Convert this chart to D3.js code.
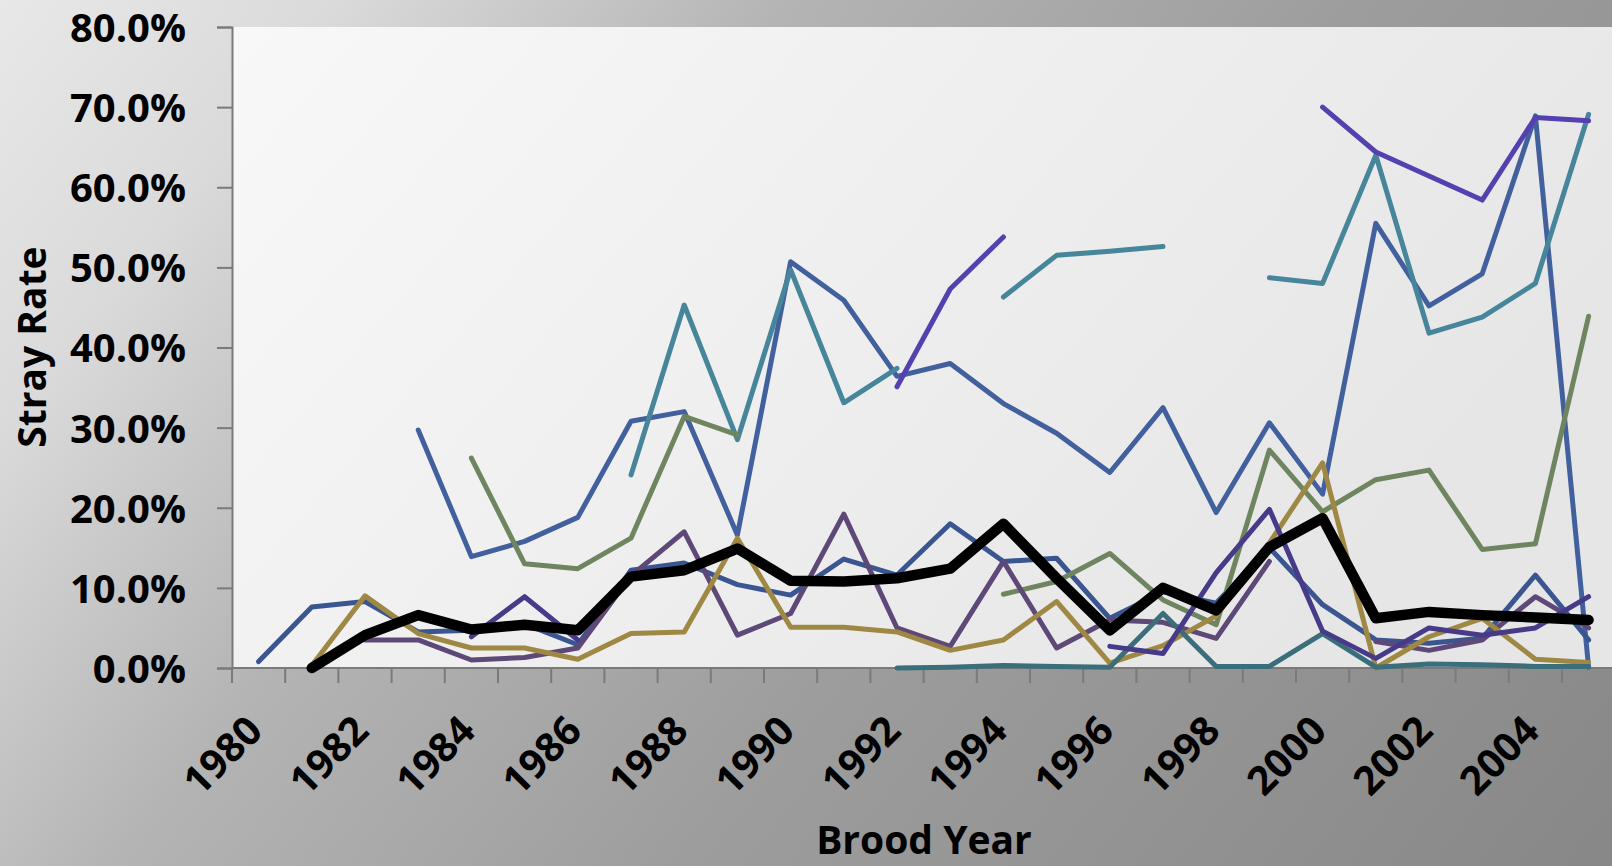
<!DOCTYPE html>
<html>
<head>
<meta charset="utf-8">
<script src="https://cdn.jsdelivr.net/npm/d3@7"></script>
<style>
  html, body { margin: 0; padding: 0; overflow: hidden; }
  svg { display: block; }
</style>
</head>
<body>
<div id="chart"></div>
<script>
const width = 1612
const height = 866

// brood years (categories)
const years = d3.range(1980, 2006)
const yTicks = [0, 0.1, 0.2, 0.3, 0.4, 0.5, 0.6, 0.7, 0.8]
const xLabelYears = years.filter(y => y % 2 === 0)

// stray rates in percent, null = no data
const upperBlue = [null, null, null, 29.7, 13.9, 15.8, 18.8, 30.8, 32.0, 16.6, 50.7, 45.9, 36.4, 38.0, 33.0, 29.3, 24.4, 32.5, 19.4, 30.6, 21.7, 55.5, 45.2, 49.2, 68.9, 0.1]
const lowerBlue = [0.8, 7.6, 8.3, 4.5, 4.7, 5.5, 2.9, 12.2, 13.1, 10.4, 9.1, 13.6, 11.6, 18.0, 13.3, 13.7, 6.2, 9.5, 8.1, 15.0, 7.9, 3.5, 3.1, 3.7, 11.6, 3.5]
const teal = [null, null, null, null, null, null, null, 24.1, 45.3, 28.5, 49.7, 33.1, 37.4, null, 46.3, 51.5, 52.0, 52.6, null, 48.7, 48.0, 64.0, 41.8, 43.8, 48.0, 69.1]
const green = [null, null, null, null, 26.2, 13.0, 12.4, 16.2, 31.4, 29.1, null, null, null, null, 9.2, 10.8, 14.3, 8.5, 5.4, 27.2, 19.5, 23.5, 24.7, 14.8, 15.5, 43.9]
const purple = [null, null, 3.5, 3.5, 1.0, 1.3, 2.5, 11.5, 17.0, 4.1, 6.8, 19.2, 5.0, 2.7, 13.3, 2.5, 6.0, 5.7, 3.7, 13.3, null, 3.3, 2.2, 3.5, 8.9, 5.0]
const gold = [null, 0.3, 9.0, 4.3, 2.5, 2.5, 1.1, 4.3, 4.5, 16.2, 5.1, 5.1, 4.5, 2.2, 3.5, 8.3, 0.6, 2.8, 6.5, 15.6, 25.6, 0.0, 3.9, 6.2, 1.1, 0.7]
const darkTeal = [null, null, null, null, null, null, null, null, null, null, null, null, 0.0, 0.1, 0.3, 0.2, 0.1, 6.8, 0.2, 0.2, 4.3, 0.1, 0.5, 0.4, 0.2, 0.2]
const indigo = [null, null, null, null, 3.9, 8.9, 3.5, null, null, null, null, null, null, null, null, null, 2.7, 1.8, 11.9, 19.8, 4.6, 1.2, 5.0, 4.1, 5.0, 8.9]
const violet = [null, null, null, null, null, null, null, null, null, null, null, null, 35.1, 47.3, 53.8, null, null, null, null, null, 70.0, 64.4, 61.4, 58.4, 68.7, 68.3]
const average = [null, 0.0, 4.1, 6.6, 4.8, 5.4, 4.7, 11.4, 12.2, 14.9, 10.9, 10.8, 11.2, 12.4, 18.0, 11.2, 4.7, 10.0, 7.2, 15.1, 18.7, 6.2, 7.0, 6.6, 6.3, 6.0]

const series = [
    { values: upperBlue, color: "#42609d", w: 5 },
    { values: lowerBlue, color: "#3a5590", w: 5 },
    { values: teal, color: "#46859a", w: 5 },
    { values: green, color: "#6e8560", w: 5 },
    { values: purple, color: "#5e4878", w: 5 },
    { values: gold, color: "#9e8844", w: 5 },
    { values: darkTeal, color: "#3a6e7a", w: 5 },
    { values: indigo, color: "#473a88", w: 5 },
    { values: violet, color: "#5540b0", w: 5 },
    { values: average, color: "#000000", w: 10.5 }
]

const plotLeft = 232, plotTop = 27, plotBottom = 668
const band = 53.2

const svg = d3.select("#chart").append("svg")
    .attr("width", width)
    .attr("height", height)

const defs = svg.append("defs")
const bg = defs.append("linearGradient").attr("id", "bg")
    .attr("gradientUnits", "userSpaceOnUse")
    .attr("x1", 0).attr("y1", 0).attr("x2", 1400).attr("y2", 1100)
bg.append("stop").attr("offset", 0).attr("stop-color", "#e8e8e8")
bg.append("stop").attr("offset", 0.15).attr("stop-color", "#dadada")
bg.append("stop").attr("offset", 0.35).attr("stop-color", "#b4b4b4")
bg.append("stop").attr("offset", 0.6).attr("stop-color", "#9d9d9d")
bg.append("stop").attr("offset", 1).attr("stop-color", "#888888")

const plotBg = defs.append("linearGradient").attr("id", "plotbg")
    .attr("x1", 0).attr("y1", 0).attr("x2", 1).attr("y2", 0.4)
plotBg.append("stop").attr("offset", 0).attr("stop-color", "#f8f8f8")
plotBg.append("stop").attr("offset", 1).attr("stop-color", "#e6e6e6")

svg.append("rect").attr("width", width).attr("height", height).attr("fill", "url(#bg)")

const x = d3.scaleBand().domain(years).range([plotLeft, plotLeft + band * years.length]).padding(0)
const y = d3.scaleLinear().domain([0, 0.8]).range([plotBottom, plotTop])

svg.append("rect")
    .attr("x", plotLeft).attr("y", plotTop)
    .attr("width", width - plotLeft + 5).attr("height", plotBottom - plotTop)
    .attr("fill", "url(#plotbg)")

// y axis
const yAxis = svg.append("g")
    .attr("transform", `translate(${plotLeft},0)`)
    .call(d3.axisLeft(y).tickValues(yTicks).tickFormat(d3.format(".1%")).tickSize(15).tickPadding(31))
yAxis.select(".domain").attr("stroke", "#7a7a7a").attr("stroke-width", 2)
yAxis.selectAll(".tick line").attr("stroke", "#7a7a7a").attr("stroke-width", 2)
yAxis.selectAll(".tick text")
    .attr("font-family", "'Open Sans', sans-serif")
    .attr("font-weight", "bold")
    .attr("font-size", 40)
    .attr("fill", "#000")
    .attr("dy", "0.36em")

// x axis line + category boundary ticks
const xAxis = svg.append("g")
xAxis.append("line")
    .attr("x1", plotLeft).attr("x2", width + 5)
    .attr("y1", plotBottom).attr("y2", plotBottom)
    .attr("stroke", "#7a7a7a").attr("stroke-width", 2)
xAxis.selectAll(".bt")
    .data(years)
    .enter()
    .append("line")
    .attr("class", "bt")
    .attr("x1", d => x(d)).attr("x2", d => x(d))
    .attr("y1", plotBottom).attr("y2", plotBottom + 15)
    .attr("stroke", "#7a7a7a").attr("stroke-width", 2)

xAxis.selectAll(".xl")
    .data(xLabelYears)
    .enter()
    .append("text")
    .attr("class", "xl")
    .attr("transform", d => `translate(${x(d) + x.bandwidth() / 2 + 6},${plotBottom + 65}) rotate(-45)`)
    .attr("text-anchor", "end")
    .attr("font-family", "'Open Sans', sans-serif")
    .attr("font-weight", "bold")
    .attr("font-size", 40)
    .attr("fill", "#000")
    .text(d => d)

// axis titles
svg.append("text")
    .attr("transform", "translate(46,347) rotate(-90)")
    .attr("text-anchor", "middle")
    .attr("font-family", "'Open Sans', sans-serif")
    .attr("font-weight", "bold")
    .attr("font-size", 39)
    .text("Stray Rate")

svg.append("text")
    .attr("x", 924).attr("y", 854)
    .attr("text-anchor", "middle")
    .attr("font-family", "'Open Sans', sans-serif")
    .attr("font-weight", "bold")
    .attr("font-size", 39)
    .text("Brood Year")

// lines
const line = d3.line()
    .defined(d => d.v != null)
    .x(d => x(d.year) + x.bandwidth() / 2)
    .y(d => y(d.v / 100))

svg.append("g")
    .selectAll("path")
    .data(series)
    .enter()
    .append("path")
    .attr("fill", "none")
    .attr("stroke", d => d.color)
    .attr("stroke-width", d => d.w)
    .attr("stroke-linejoin", "round")
    .attr("stroke-linecap", "round")
    .attr("d", d => line(d.values.map((v, i) => ({ year: years[i], v: v }))))
</script>
</body>
</html>
